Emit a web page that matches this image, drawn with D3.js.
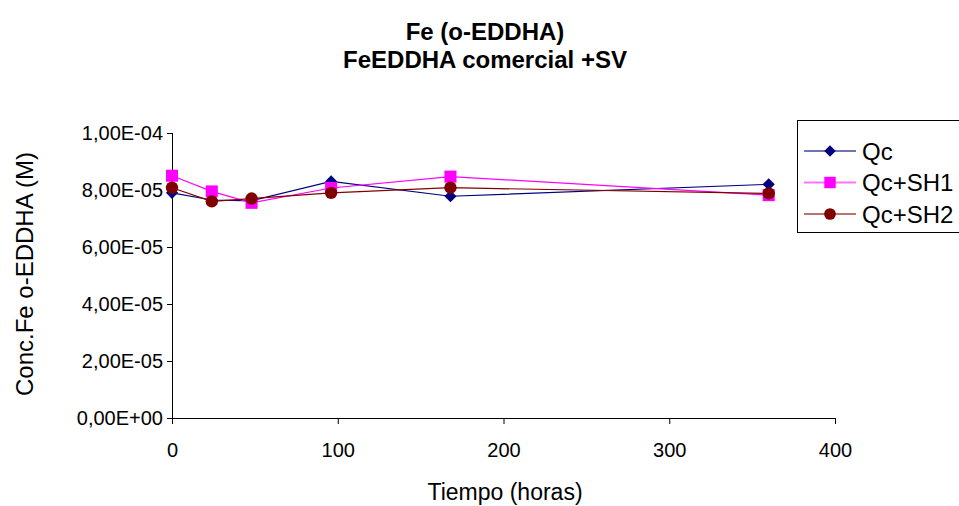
<meta charset="utf-8" />
<style>body { margin: 0; }</style>
<svg width="959" height="506"></svg>
<script src="https://cdn.jsdelivr.net/npm/d3@7"></script>
<script>
	var horas = [0, 24, 48, 96, 168, 360];
	var qc = [7.9e-5, 7.65e-5, 7.62e-5, 8.3e-5, 7.78e-5, 8.2e-5];
	var qcSh1 = [8.5e-5, 7.95e-5, 7.55e-5, 8.07e-5, 8.47e-5, 7.82e-5];
	var qcSh2 = [8.08e-5, 7.6e-5, 7.7e-5, 7.9e-5, 8.08e-5, 7.88e-5];
	var xTicks = [0, 100, 200, 300, 400];
	var yTicks = [0, 2e-5, 4e-5, 6e-5, 8e-5, 1e-4];

	var series = [
		{ name: 'Qc', values: qc, color: '#000080', symbol: d3.symbolSquare, size: 74, rot: 45 },
		{ name: 'Qc+SH1', values: qcSh1, color: '#ff00ff', symbol: d3.symbolSquare, size: 145, rot: 0 },
		{ name: 'Qc+SH2', values: qcSh2, color: '#800000', symbol: d3.symbolCircle, size: 120, rot: 0 }
	];

	var font = 'Arial, "Liberation Sans", sans-serif';
	var svg = d3.select('svg').style('font-family', font);
	svg.append('rect').attr('width', 959).attr('height', 506).attr('fill', '#fff');

	var x = d3.scaleLinear().domain([0, 400]).range([172, 835]);
	var y = d3.scaleLinear().domain([0, 1e-4]).range([418, 133]);

	// format like 8,00E-05
	function sci(v) {
		if (v === 0) return '0,00E+00';
		var e = Math.floor(Math.log10(v) + 1e-9);
		var m = v / Math.pow(10, e);
		var es = (e < 0 ? '-' : '+') + String(Math.abs(e)).padStart(2, '0');
		return m.toFixed(2).replace('.', ',') + 'E' + es;
	}

	var xAxis = svg.append('g')
		.attr('transform', 'translate(0,418)')
		.call(d3.axisBottom(x).tickValues(xTicks).tickSize(6).tickPadding(19));
	var yAxis = svg.append('g')
		.attr('transform', 'translate(172,0)')
		.call(d3.axisLeft(y).tickValues(yTicks).tickFormat(sci).tickSize(5).tickPadding(4));

	[xAxis, yAxis].forEach(function (a) {
		a.select('.domain').attr('stroke', '#000');
		a.selectAll('.tick line').attr('stroke', '#000');
		a.selectAll('.tick text').attr('fill', '#000').style('font-size', '20px').style('font-family', font);
	});
	xAxis.select('.domain').attr('d', 'M172,0.5H835');
	yAxis.select('.domain').attr('d', 'M0.5,133V418');

	var line = d3.line()
		.x(function (d, i) { return x(horas[i]); })
		.y(function (d) { return y(d); });

	series.forEach(function (s) {
		svg.append('path')
			.datum(s.values)
			.attr('fill', 'none')
			.attr('stroke', s.color)
			.attr('stroke-width', 1.2)
			.attr('d', line);
	});
	series.forEach(function (s) {
		svg.selectAll(null)
			.data(s.values)
			.enter()
			.append('path')
			.attr('transform', function (d, i) { return 'translate(' + x(horas[i]) + ',' + y(d) + ') rotate(' + s.rot + ')'; })
			.attr('d', d3.symbol().type(s.symbol).size(s.size))
			.attr('fill', s.color);
	});

	// titles
	svg.append('text').attr('x', 485).attr('y', 40).attr('text-anchor', 'middle')
		.style('font-size', '24px').style('font-weight', 'bold').text('Fe (o-EDDHA)');
	svg.append('text').attr('x', 485).attr('y', 68).attr('text-anchor', 'middle')
		.style('font-size', '24px').style('font-weight', 'bold').text('FeEDDHA comercial +SV');
	svg.append('text').attr('x', 505).attr('y', 500).attr('text-anchor', 'middle')
		.style('font-size', '23px').text('Tiempo (horas)');
	svg.append('text').attr('transform', 'translate(33,274) rotate(-90)').attr('text-anchor', 'middle')
		.style('font-size', '24px').text('Conc.Fe o-EDDHA (M)');

	// legend
	var lg = svg.append('g');
	lg.append('rect').attr('x', 797.5).attr('y', 120.5).attr('width', 170).attr('height', 112)
		.attr('fill', '#fff').attr('stroke', '#000');
	series.forEach(function (s, i) {
		var ly = 151 + i * 31.5;
		lg.append('line').attr('x1', 804).attr('x2', 856).attr('y1', ly).attr('y2', ly)
			.attr('stroke', s.color).attr('stroke-opacity', 0.55).attr('stroke-width', 2);
		lg.append('path')
			.attr('transform', 'translate(830,' + ly + ') rotate(' + s.rot + ')')
			.attr('d', d3.symbol().type(s.symbol).size(s.size * 0.9))
			.attr('fill', s.color);
		lg.append('text').attr('x', 862).attr('y', ly + 8.5).style('font-size', '24px').text(s.name);
	});
</script>
